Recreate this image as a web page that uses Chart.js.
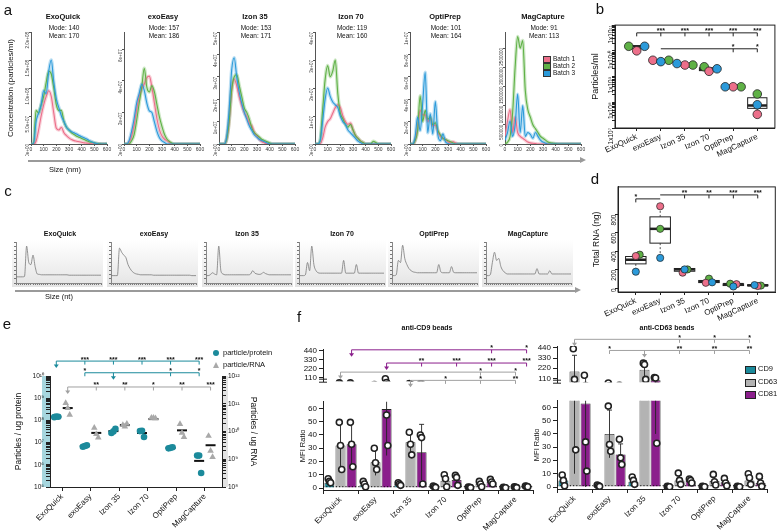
<!DOCTYPE html>
<html>
<head>
<meta charset="utf-8">
<title>EV isolation methods</title>
<script src="https://cdn.jsdelivr.net/npm/chart.js@4.4.1/dist/chart.umd.min.js"></script>
<style>
  body { margin:0; width:780px; height:531px; position:relative; overflow:hidden; background:#fff;
         font-family:"Liberation Sans", Arial, sans-serif; color:#111; }
  canvas, .t, .bx { position:absolute; }
  .t { white-space:nowrap; line-height:1; filter:grayscale(1); }
</style>
</head>
<body>
<script>
// ---------- data ----------
const methods = ['ExoQuick', 'exoEasy', 'Izon 35', 'Izon 70', 'OptiPrep', 'MagCapture'];

// a: size distributions (x in nm, y in aUnit of each method)
const aSizes = [0,20,40,60,80,100,120,140,160,180,200,220,240,260,280,300,320,340,360,380,400,420,440,460,480,500,520,540,560,580,600];
const aUnit = [1e7, 1e7, 1e7, 1e7, 1e6, 1e5];
const aYMax = [2e8, 7.1e7, 5e7, 4e7, 1e7, 2.92e6];
const aYTicks = [[0,5e7,1e8,1.5e8,2e8],[0,2e7,4e7,6e7],[0,1e7,2e7,3e7,4e7,5e7],[0,1e7,2e7,3e7,4e7],[0,2e6,4e6,6e6,8e6,1e7],[0,5e5,1e6,1.5e6,2e6,2.5e6]];
const aSizeTicks = [0,100,200,300,400,500,600];
const aMode = [140, 157, 153, 119, 101, 91];
const aMean = [170, 186, 171, 160, 164, 113];
const aBatch1 = [
  [0,0,0.5,2.5,5,7,8.5,9.5,8.5,5.5,2.8,2.5,3,2,1.5,1.1,0.8,0.6,0.5,0.4,0.3,0.2,0.15,0.1,0.05,0,0,0,0,0,0],
  [0,0,0.1,0.5,1.2,2.2,3,3.5,3.8,4.2,4.3,3.6,2.6,1.6,0.9,0.5,0.3,0.2,0.1,0,0,0,0,0,0,0,0,0,0,0,0],
  [0,0,0,0.2,1,2.4,2.9,2.6,2.1,1.7,1.4,1.2,0.9,0.8,0.5,0.35,0.2,0.1,0.05,0,0,0,0,0,0,0,0,0,0,0,0],
  [0,0,0,0.2,0.6,0.8,0.9,1.1,1.3,1.4,1.3,1,0.8,0.7,0.75,0.5,0.3,0.2,0.1,0.05,0,0,0,0,0,0,0,0,0,0,0],
  [0,0,0.3,1.4,3,2.6,2.6,2,2.3,1.6,1.7,1.1,0.7,0.5,0.4,0.2,0.1,0.2,0.1,0,0,0,0,0,0,0,0,0,0,0,0],
  [2,6,9,3,7,3,2,1.5,1,0.5,0.3,0.2,0.1,0,0,0,0,0,0,0,0,0,0,0,0,0,0,0,0,0,0]
];
const aBatch2 = [
  [0,0,6,5.5,7,8.5,11,13,12.5,10,7,6,6,4,3,2.5,2,1.7,1.4,1.2,1,0.8,0.6,0.4,0.3,0.2,0.1,0.05,0,0,0.1],
  [0,0,0,0.2,0.6,1.5,2.6,3.6,4.8,3.6,3.3,3.7,3.3,2.5,1.7,1.1,0.6,0.3,0.15,0.05,0,0,0,0,0,0,0,0,0,0,0],
  [0,0,0,0.2,1,2.4,3,3.1,2.6,2.1,1.6,1.4,1.1,0.7,0.5,0.4,0.3,0.2,0.15,0.1,0.05,0,0,0,0,0,0,0,0,0,0],
  [0,0,0.1,1.2,2.3,2.8,2.4,2.6,3,1.8,1.1,0.9,0.7,0.6,0.7,0.5,0.3,0.2,0.1,0.05,0,0,0,0.1,0.05,0,0,0,0,0,0],
  [0,0,0.3,1.2,4.3,2,3,2.2,2.4,1.7,1.9,1.2,0.8,0.5,0.4,0.3,0.2,0.1,0,0,0,0,0,0,0,0,0,0,0,0,0],
  [0,0.5,2,8,20,28,25,27,14,9,7,5,4,3,2,1.5,1,0.5,0.3,0.2,0.1,0,0,0,0,0,0,0,0,0,0]
];
const aBatch3 = [
  [0,0,4,5.5,7,9.5,9,13,15,11,8,6.5,5,4,3,2.5,2.2,2,1.8,1.5,1.3,1.1,0.9,0.6,0.4,0.2,0.1,0,0,0,0],
  [0,0,0.2,0.8,1.6,2.6,3.2,3.8,3.4,2.6,2.1,2,1.4,0.8,0.4,0.2,0.1,0,0,0,0,0,0,0,0,0,0,0,0,0,0],
  [0,0,0,0.3,1.5,3.3,3.85,3,2.3,1.8,1.4,1.1,0.8,0.6,0.4,0.3,0.2,0.15,0.1,0.05,0,0,0,0,0,0,0,0,0,0,0],
  [0,0,0.1,0.8,1.6,2,1.7,1.5,1.4,1.3,1,0.8,0.7,0.5,0.4,0.3,0.2,0.1,0.05,0,0,0,0,0,0,0,0,0,0,0,0],
  [0,0,0.6,2.4,1.2,3.6,6.4,1,2.7,0.9,3.8,0.8,0.3,0.9,0.2,0.05,0,0,0,0,0,0,0,0,0,0,0,0,0,0,0],
  [1,3,6,2,5,13,3,10,2,3,2.5,1.5,3,2,1,0.5,0.2,0,0,0,0,0,0,0,0,0,0,0,0,0,0]
];

// b: particles/ml per batch
const bBatch1 = [1.0e10, 4.3e9, 2.8e9, 1.6e9, 4.0e8, 3.4e7];
const bBatch2 = [1.5e10, 4.3e9, 2.8e9, 2.4e9, 4.0e8, 2.1e8];
const bBatch3 = [1.5e10, 3.8e9, 3.2e9, 2.0e9, 4.0e8, 8.0e7];
const bQ1 = [1.2e10, 4.0e9, 2.8e9, 1.7e9, 4.0e8, 5.8e7];
const bMed = [1.5e10, 4.3e9, 2.8e9, 1.9e9, 4.0e8, 7.5e7];
const bQ3 = [1.5e10, 4.3e9, 3.0e9, 2.2e9, 4.0e8, 1.5e8];

// c: Bioanalyzer traces (arbitrary units)
const cPos = [0,1,2,3,4,5,6,7,8,9,10,11,12,13,14,15,16,17,18,19,20,21,22,23,24,25,26,27,28,29,30,31,32,33,34,35,36,37,38,39,40];
const cTraces = [
  [15,15,15,15,16,90,50,45,68,40, 22,21,20,20,20,20,20,20,20,20, 20,20,20,20,20,19,19,19,19,19, 19,19,19,19,19,19,19,19,19,19,19],
  [18,18,18,18,85,75,68,62,45,35, 28,24,22,21,20,20,20,20,20,20, 19,19,19,19,19,19,19,19,19,19, 19,19,19,19,19,19,19,19,18,18,18],
  [18,18,20,25,22,20,90,30,22,20, 20,20,20,20,20,20,20,20,20,20, 20,22,30,24,22,21,22,26,23,21, 20,20,20,20,20,20,20,20,20,20,20],
  [18,18,18,20,50,30,90,45,30,25, 24,24,24,24,24,24,24,24,24,24, 24,55,24,24,24,24,24,45,24,24, 24,24,24,24,24,24,24,24,24,24,24],
  [18,18,20,55,50,92,60,45,35,30, 27,26,25,25,25,25,25,25,25,25, 25,25,45,27,25,25,25,25,40,26, 25,25,25,25,25,25,25,25,25,25,25],
  [18,18,20,50,75,55,60,40,30,25, 22,22,22,22,22,22,22,22,22,22, 22,22,22,22,35,22,22,22,22,22, 30,22,22,22,22,22,22,22,22,22,22]
];

// d: total RNA (ng)
const dBatch1 = [350, 890, 170, 60, 45, 25];
const dBatch2 = [365, 645, 205, 105, 50, 30];
const dBatch3 = [180, 330, 205, 65, 20, 35];
const dQ1 = [265, 490, 185, 62, 30, 28];
const dMed = [310, 645, 205, 72, 45, 32];
const dQ3 = [345, 775, 215, 85, 48, 38];
const dTicks = [0, 200, 400, 600, 800];

// e: particles per ug protein / per ug RNA
const eProtein = [[1.4e8,1.5e8,1.45e8],[6.5e6,7e6,7.5e6],[2.7e7,3.2e7,4.2e7],[3.3e7,3.4e7,1.8e7],[5.5e6,5.8e6,6.2e6],[2.6e6,2.6e6,4.3e5]];
const eRna = [[1.05e11,7e10,4e10],[1.35e10,8e9,6e9],[1.7e10,1.5e10,1.9e10],[3.1e10,3.1e10,3.0e10],[1.85e10,9e9,6.3e9],[6.9e9,2e9,1.2e9]];
const eProteinMean = [1.45e8, 7e6, 3.3e7, 2.7e7, 5.8e6, 1.5e6];
const eRnaMean = [7e10, 8.9e9, 1.7e10, 2.8e10, 1.1e10, 3.2e9];

// f: MFI ratio, series CD9 / CD63 / CD81
const fSeries = ['CD9', 'CD63', 'CD81'];
const fLowTicks = [0, 10, 20, 30, 40, 50, 60];
const fHighTicks = [110, 220, 330, 440];
const cd9BeadsMean = [[4, 2, 3, 0.7, 0.4, 0.3], [32, 19.5, 34.5, 5.5, 3, 0.5], [33, 59.5, 27, 6, 4.5, 1.2]];
const cd9BeadsSd = [[1.5, 2, 1, 0.5, 0.2, 0.1], [17, 10, 8, 4, 2, 0.3], [16, 35, 21, 4, 1.5, 0.3]];
const cd9BeadsPts = [
  [[7,5,4],[5,3,1],[4,3,2],[1.5,1,0.5],[0.8,0.5,0.3],[0.5,0.3,0.2]],
  [[49.5,32,14],[30,19,14],[42,33,25],[10,7,1],[5,3,1],[1,0.5,0.3]],
  [[49.5,33,16],[100,55,32],[40,38,3],[9.5,8,2],[6.5,4.5,3],[1.5,1.2,1]]
];
const cd63BeadsMean = [[5, 1, 4, 0.3, 0.3, 0.3], [185, 40, 205, 5, 4.5, 5], [63, 24.5, 90, 4.5, 3.5, 3]];
const cd63BeadsSd = [[4, 0.5, 2.5, 0.2, 0.2, 0.2], [175, 18, 95, 4, 4, 4], [70, 8, 50, 1.5, 2.5, 3.5]];
const cd63BeadsPts = [
  [[9,5,1],[1.5,1,0.5],[7.5,5,2],[0.5,0.3,0.2],[0.5,0.3,0.2],[0.5,0.3,0.2]],
  [[430,100,28],[61,32,27],[275,260,100],[10.5,5,2],[9.5,4,1.5],[10,7,2]],
  [[145,34,12],[36,22,17],[120,115,33],[6,5,3],[6.5,3,1],[8,3,0.5]]
];

// significance brackets: [category, series, label]
const bBrackets = [
  { axis:'y', level:5e10, color:'#222', from:[0,0], to:[5,0], marks:[[0,0,''],[1,0,'***'],[2,0,'***'],[3,0,'***'],[4,0,'***'],[5,0,'***']] },
  { axis:'y', level:1.2e10, color:'#222', from:[1,0], to:[5,0], marks:[[4,0,'*'],[5,0,'*']] }
];
const dBrackets = [
  { axis:'y', level:970, color:'#222', from:[0,0], to:[1,0], marks:[[0,0,'*']] },
  { axis:'y', level:1013, color:'#222', from:[1,0], to:[5,0], marks:[[2,0,'**'],[3,0,'**'],[4,0,'***'],[5,0,'***']] }
];
const eBrackets = [
  { axis:'yL', level:4.7e10, color:'#1b8a9b', from:[0,0], to:[5,0], arrow:[0,0], marks:[[1,0,'***'],[2,0,'***'],[3,0,'***'],[4,0,'***'],[5,0,'***']] },
  { axis:'yL', level:1.4e10, color:'#1b8a9b', from:[1,0], to:[5,0], arrow:[2,0], marks:[[1,0,'*'],[4,0,'*'],[5,0,'*']] },
  { axis:'yL', level:3.2e9, color:'#a0a0a0', from:[0,1], to:[5,1], arrow:[0,1], marks:[[1,1,'**'],[2,1,'**'],[3,1,'*'],[4,1,'**'],[5,1,'***']] }
];
const fLeftBrackets = [
  { axis:'y', level:450, color:'#8b1f8c', from:[0,2], to:[5,2], arrow:[0,2], marks:[[4,2,'*'],[5,2,'*']] },
  { axis:'y', level:290, color:'#8b1f8c', from:[1,2], to:[5,2], arrow:[1,2], marks:[[2,2,'**'],[3,2,'***'],[4,2,'***'],[5,2,'***']] },
  { axis:'y', level:180, color:'#a0a0a0', from:[0,1], to:[5,1], arrow:[0,1], marks:[[4,1,'*'],[5,1,'*']] },
  { axis:'y', level:80, color:'#a0a0a0', from:[2,1], to:[5,1], arrow:[2,1], marks:[[3,1,'*'],[4,1,'*'],[5,1,'**']] }
];
const fRightBrackets = [
  { axis:'y', level:532, color:'#a0a0a0', from:[0,1], to:[5,1], arrow:[0,1], marks:[[3,1,'*'],[4,1,'*'],[5,1,'*']] },
  { axis:'y', level:412, color:'#a0a0a0', from:[1,1], to:[5,1], arrow:[2,1], marks:[[1,1,'*'],[3,1,'**'],[4,1,'**'],[5,1,'**']] }
];

// ---------- styles ----------
const pink = '#ec6f8a', green = '#5fb146', blue = '#2b9ada';
const teal = '#1b8a9b', grayBar = '#b3b3b3', purple = '#8b1f8c';
const FONT = '"Liberation Sans", Arial, sans-serif';

Chart.defaults.font.family = FONT;
Chart.defaults.color = '#111';
Chart.defaults.animation = false;
Chart.defaults.responsive = false;
Chart.defaults.devicePixelRatio = 1;
Chart.defaults.plugins.legend.display = false;
Chart.defaults.plugins.tooltip.enabled = false;

// ---------- helpers ----------
function place(left, top, w, h) {
  const c = document.createElement('canvas');
  c.width = w; c.height = h;
  Object.assign(c.style, { left: left + 'px', top: top + 'px', width: w + 'px', height: h + 'px' });
  document.body.appendChild(c);
  return c.getContext('2d');
}
function text(str, x, y, size, o = {}) {
  const d = document.createElement('div');
  d.className = 't';
  d.textContent = str;
  d.style.left = x + 'px';
  d.style.top = y + 'px';
  d.style.fontSize = size + 'px';
  if (o.bold) d.style.fontWeight = 'bold';
  const ax = o.left ? '0' : '-50%';
  d.style.transform = 'translate(' + ax + ',-50%)' + (o.rot ? ' rotate(' + o.rot + 'deg)' : '');
  document.body.appendChild(d);
}
function box(x, y, w, h, css) {
  const d = document.createElement('div');
  d.className = 'bx';
  Object.assign(d.style, { left: x + 'px', top: y + 'px', width: w + 'px', height: h + 'px' }, css);
  document.body.appendChild(d);
}
function arrowLine(x1, x2, y) {
  box(x1, y, x2 - x1, 1.5, { background: '#9a9a9a' });
  box(x2, y - 3, 0, 0, { borderLeft: '6px solid #9a9a9a', borderTop: '3.5px solid transparent', borderBottom: '3.5px solid transparent' });
}
const tickGrid = (len, color) => ({ display: true, drawOnChartArea: false, drawTicks: true, tickLength: len, color: color || '#222' });
const SUP = '⁰¹²³⁴⁵⁶⁷⁸⁹';
const sup = n => String(n).split('').map(ch => SUP[+ch]).join('');
const isPow10 = v => Math.abs(Math.log10(v) - Math.round(Math.log10(v))) < 1e-9;
function logTicks(e0, e1) {
  const t = [];
  for (let e = e0; e < e1; e++) for (let s = 1; s < 10; s++) t.push({ value: s * Math.pow(10, e) });
  t.push({ value: Math.pow(10, e1) });
  return t;
}
function sci(v, d) { return v.toExponential(d).replace(/e([+-])(\d)$/, 'e$10$2'); }

const linX = offs => (ch, c, s) => ch.scales.x.getPixelForValue(c + (offs[s] || 0));
const barX = (ch, c, s) => ch.getDatasetMeta(s).data[c].x;

function bracketPlugin(list, xOf) {
  return {
    id: 'brackets',
    afterDraw(chart) {
      const ctx = chart.ctx;
      ctx.save();
      list.forEach(b => {
        const y = chart.scales[b.axis].getPixelForValue(b.level);
        const x1 = xOf(chart, b.from[0], b.from[1]), x2 = xOf(chart, b.to[0], b.to[1]);
        ctx.strokeStyle = b.color; ctx.fillStyle = b.color; ctx.lineWidth = 1;
        ctx.beginPath(); ctx.moveTo(x1, y); ctx.lineTo(x2, y); ctx.stroke();
        if (b.arrow) {
          const xa = xOf(chart, b.arrow[0], b.arrow[1]);
          ctx.beginPath(); ctx.moveTo(xa, y); ctx.lineTo(xa, y + 5); ctx.stroke();
          ctx.beginPath(); ctx.moveTo(xa - 2.5, y + 3.5); ctx.lineTo(xa + 2.5, y + 3.5); ctx.lineTo(xa, y + 7); ctx.closePath(); ctx.fill();
        }
        ctx.font = 'bold 7px ' + FONT; ctx.textAlign = 'center'; ctx.textBaseline = 'bottom';
        b.marks.forEach(([c, s, lab]) => {
          const xm = xOf(chart, c, s);
          ctx.strokeStyle = b.color;
          ctx.beginPath(); ctx.moveTo(xm, y); ctx.lineTo(xm, y + 3.5); ctx.stroke();
          ctx.fillStyle = '#111';
          if (lab) ctx.fillText(lab, xm, y + 2);
        });
      });
      ctx.restore();
    }
  };
}

function boxPlugin(q1, med, q3, series, half) {
  return {
    id: 'boxes',
    beforeDatasetsDraw(chart) {
      const ctx = chart.ctx, xs = chart.scales.x, ys = chart.scales.y;
      ctx.save();
      ctx.strokeStyle = '#222';
      q1.forEach((lo, i) => {
        const cx = xs.getPixelForValue(i), hw = xs.getPixelForValue(i + half) - cx;
        const vals = series.map(s => s[i]);
        const yTop = ys.getPixelForValue(q3[i]), yBot = ys.getPixelForValue(lo);
        ctx.setLineDash([2, 2]); ctx.lineWidth = 0.8;
        ctx.beginPath();
        ctx.moveTo(cx, yTop); ctx.lineTo(cx, ys.getPixelForValue(Math.max(...vals)));
        ctx.moveTo(cx, yBot); ctx.lineTo(cx, ys.getPixelForValue(Math.min(...vals)));
        ctx.stroke();
        ctx.setLineDash([]);
        ctx.fillStyle = '#fff'; ctx.lineWidth = 1;
        ctx.fillRect(cx - hw, yTop, 2 * hw, yBot - yTop);
        ctx.strokeRect(cx - hw, yTop, 2 * hw, yBot - yTop);
        const ym = ys.getPixelForValue(med[i]);
        ctx.lineWidth = 2.5;
        ctx.beginPath(); ctx.moveTo(cx - hw, ym); ctx.lineTo(cx + hw, ym); ctx.stroke();
      });
      ctx.restore();
    }
  };
}

const framePlugin = {
  id: 'frame',
  afterDraw(chart) {
    const a = chart.chartArea, ctx = chart.ctx;
    ctx.save(); ctx.strokeStyle = '#222'; ctx.lineWidth = 1;
    ctx.strokeRect(a.left, a.top, a.right - a.left, a.bottom - a.top);
    ctx.restore();
  }
};

const ptJitter = [-1.2, 0, 1.2];
const barExtras = {
  id: 'barExtras',
  afterDatasetsDraw(chart, args, opts) {
    const ctx = chart.ctx, a = chart.chartArea, ys = chart.scales.y;
    ctx.save();
    ctx.beginPath(); ctx.rect(a.left - 6, a.top, a.right - a.left + 12, a.bottom - a.top); ctx.clip();
    if (opts.dotted) {
      const y1 = ys.getPixelForValue(1);
      ctx.setLineDash([1.2, 2]); ctx.strokeStyle = '#111'; ctx.lineWidth = 1;
      ctx.beginPath(); ctx.moveTo(a.left, y1); ctx.lineTo(a.right, y1); ctx.stroke();
      ctx.setLineDash([]);
    }
    chart.data.datasets.forEach((ds, i) => {
      const meta = chart.getDatasetMeta(i);
      ds.data.forEach((m, j) => {
        const x = meta.data[j].x;
        const yHi = ys.getPixelForValue(m + ds.sd[j]), yLo = ys.getPixelForValue(Math.max(m - ds.sd[j], 0));
        ctx.strokeStyle = '#222'; ctx.lineWidth = 0.9;
        ctx.beginPath(); ctx.moveTo(x, yLo); ctx.lineTo(x, yHi);
        ctx.moveTo(x - 2.5, yHi); ctx.lineTo(x + 2.5, yHi); ctx.stroke();
        ds.pts[j].forEach((p, k) => {
          ctx.beginPath(); ctx.arc(x + ptJitter[k], ys.getPixelForValue(p), 3, 0, 2 * Math.PI);
          ctx.fillStyle = '#fff'; ctx.fill();
          ctx.lineWidth = 1.6; ctx.strokeStyle = '#222'; ctx.stroke();
        });
      });
    });
    ctx.restore();
    if (!opts.dotted) {
      // axis break marks under the upper segment
      ctx.save(); ctx.strokeStyle = '#222'; ctx.lineWidth = 1;
      ctx.beginPath();
      ctx.moveTo(a.left - 4, a.bottom - 2); ctx.lineTo(a.left + 4, a.bottom - 2);
      ctx.moveTo(a.left - 4, a.bottom + 1); ctx.lineTo(a.left + 4, a.bottom + 1);
      ctx.stroke(); ctx.restore();
    }
  }
};

// ---------- panel a ----------
const aPlotLeft = [31, 124, 219, 315, 410, 505];
const aTitleX = [63, 163, 255, 351, 445, 543];
methods.forEach((m, i) => {
  const ctx = place(aPlotLeft[i] - 12, 28, 94, 128);
  const toPts = arr => arr.map((v, k) => ({ x: aSizes[k], y: v * aUnit[i] }));
  const series = [aBatch3[i], aBatch2[i], aBatch1[i]];
  const cols = [blue, green, pink];
  const lines = series.map((s, k) => ({ data: toPts(s), borderColor: cols[k], borderWidth: 1.1, pointRadius: 0, cubicInterpolationMode: 'monotone' }));
  const halos = series.map((s, k) => ({ data: toPts(s), borderColor: cols[k] + '50', borderWidth: 3.5, pointRadius: 0, cubicInterpolationMode: 'monotone' }));
  new Chart(ctx, {
    type: 'line',
    data: { datasets: [...lines, ...halos] },
    options: {
      layout: { padding: { top: 4, right: 6 } },
      scales: {
        x: {
          type: 'linear', min: 0, max: 600,
          afterBuildTicks: s => { s.ticks = aSizeTicks.map(v => ({ value: v })); },
          ticks: { font: { size: 5 }, padding: 1, maxRotation: 0, autoSkip: false, color: '#333' },
          grid: tickGrid(2, '#555'), border: { color: '#555' },
          afterFit: s => { s.height = 12; }
        },
        y: {
          min: 0, max: aYMax[i],
          afterBuildTicks: s => { s.ticks = aYTicks[i].map(v => ({ value: v })); },
          ticks: { font: { size: 4.5 }, minRotation: 90, maxRotation: 90, padding: 1, autoSkip: false, color: '#333',
                   callback: v => i === 5 ? String(v) : sci(v, i === 0 ? 1 : 0) },
          grid: tickGrid(2, '#555'), border: { color: '#555' },
          afterFit: s => { s.width = 12; }
        }
      }
    }
  });
  text(m, aTitleX[i], 17, 7.5, { bold: true });
  text('Mode: ' + aMode[i], aTitleX[i] + 1, 28, 6.5);
  text('Mean: ' + aMean[i], aTitleX[i] + 1, 36, 6.5);
});
text('a', 8, 9, 15);
text('Concentration (particles/ml)', 11, 88, 8, { rot: -90 });
arrowLine(28, 580, 160);
text('Size (nm)', 65, 170, 7.5);
[['Batch 1', pink], ['Batch 2', green], ['Batch 3', blue]].forEach(([lab, col], k) => {
  box(543, 56 + k * 7, 6, 5, { background: col, border: '0.8px solid #333' });
  text(lab, 553, 59 + k * 7, 6.5, { left: true });
});

// ---------- panel b ----------
const bDx = [[0, -0.33, 0, 0, 0, 0], [-0.33, 0.33, 0.33, -0.2, 0.33, 0], [0.33, 0, -0.33, 0.33, -0.33, 0]];
const dotPts = (vals, dx) => vals.map((v, i) => ({ x: i + dx[i], y: v }));
new Chart(place(590, 20, 190, 143), {
  type: 'scatter',
  data: { datasets: [
    { data: dotPts(bBatch3, bDx[2]), backgroundColor: blue, borderColor: '#222', borderWidth: 0.8, pointRadius: 4.3 },
    { data: dotPts(bBatch1, bDx[0]), backgroundColor: pink, borderColor: '#222', borderWidth: 0.8, pointRadius: 4.3 },
    { data: dotPts(bBatch2, bDx[1]), backgroundColor: green, borderColor: '#222', borderWidth: 0.8, pointRadius: 4.3 }
  ] },
  options: {
    layout: { padding: { top: 3, right: 2 } },
    scales: {
      x: {
        type: 'linear', min: -0.9, max: 5.73,
        afterBuildTicks: s => { s.ticks = methods.map((c, i) => ({ value: i })); },
        ticks: { callback: v => methods[v], minRotation: 25, maxRotation: 25, font: { size: 8 }, autoSkip: false, padding: 1 },
        grid: tickGrid(3), border: { color: '#222' },
        afterFit: s => { s.height = 35; }
      },
      y: {
        type: 'logarithmic', min: 1e7, max: 1e11,
        afterBuildTicks: s => { s.ticks = logTicks(7, 11); },
        ticks: { autoSkip: false, minRotation: 90, maxRotation: 90, font: { size: 6.5 }, padding: 1,
                 callback: v => isPow10(v) ? '1x10' + sup(Math.round(Math.log10(v))) : '' },
        grid: tickGrid(3), border: { color: '#222' },
        title: { display: true, text: 'Particles/ml', font: { size: 9 }, padding: 0 },
        afterFit: s => { s.width = 25; }
      }
    }
  },
  plugins: [boxPlugin(bQ1, bMed, bQ3, [bBatch1, bBatch2, bBatch3], 0.4), framePlugin, bracketPlugin(bBrackets, linX([0]))]
});
text('b', 600, 8, 15);

// ---------- panel c ----------
const cBoxLeft = [12, 107, 202, 295, 388, 482];
const cTitleX = [60, 154, 247, 342, 434, 528];
const cShade = {
  id: 'shade',
  beforeDraw(chart) {
    const ctx = chart.ctx, g = ctx.createLinearGradient(0, 0, 0, chart.height);
    g.addColorStop(0, '#ffffff'); g.addColorStop(1, '#e4e4e4');
    ctx.save(); ctx.fillStyle = g; ctx.fillRect(0, 0, chart.width, chart.height); ctx.restore();
  }
};
methods.forEach((m, i) => {
  new Chart(place(cBoxLeft[i], 240, 91, 47), {
    type: 'line',
    data: { labels: cPos, datasets: [{ data: cTraces[i], borderColor: '#7a7a7a', borderWidth: 0.8, pointRadius: 0, cubicInterpolationMode: 'monotone' }] },
    options: {
      layout: { padding: { top: 2, right: 2 } },
      scales: {
        x: { ticks: { display: false }, grid: { display: true, drawOnChartArea: false, tickLength: 2, color: '#777' }, border: { color: '#888' }, afterFit: s => { s.height = 4; } },
        y: { min: 0, max: 100, ticks: { display: false, stepSize: 10 }, grid: { display: true, drawOnChartArea: false, tickLength: 2, color: '#777' }, border: { color: '#888' }, afterFit: s => { s.width = 4; } }
      }
    },
    plugins: [cShade]
  });
  text(m, cTitleX[i], 233, 7, { bold: true });
});
text('c', 8, 190, 15);
arrowLine(15, 575, 290);
text('Size (nt)', 59, 297, 7.5);

// ---------- panel d ----------
const dDx = [[0, 0, -0.08, -0.13, 0.13, 0], [0.16, 0, 0.12, 0, -0.13, 0.13], [0, 0, 0, 0.13, 0, -0.13]];
new Chart(place(592, 182, 188, 140), {
  type: 'scatter',
  data: { datasets: [
    { data: dotPts(dBatch3, dDx[2]), backgroundColor: blue, borderColor: '#222', borderWidth: 0.7, pointRadius: 3.6 },
    { data: dotPts(dBatch1, dDx[0]), backgroundColor: pink, borderColor: '#222', borderWidth: 0.7, pointRadius: 3.6 },
    { data: dotPts(dBatch2, dDx[1]), backgroundColor: green, borderColor: '#222', borderWidth: 0.7, pointRadius: 3.6 }
  ] },
  options: {
    layout: { padding: { top: 3, right: 2 } },
    scales: {
      x: {
        type: 'linear', min: -0.73, max: 5.72,
        afterBuildTicks: s => { s.ticks = methods.map((c, i) => ({ value: i })); },
        ticks: { callback: v => methods[v], minRotation: 25, maxRotation: 25, font: { size: 8 }, autoSkip: false, padding: 1 },
        grid: tickGrid(3), border: { color: '#222' },
        afterFit: s => { s.height = 30; }
      },
      y: {
        min: -40, max: 1100,
        afterBuildTicks: s => { s.ticks = dTicks.map(v => ({ value: v })); },
        ticks: { autoSkip: false, minRotation: 90, maxRotation: 90, font: { size: 6.5 }, padding: 1 },
        grid: tickGrid(3), border: { color: '#222' },
        title: { display: true, text: 'Total RNA (ng)', font: { size: 8.5 }, padding: 0 },
        afterFit: s => { s.width = 26; }
      }
    }
  },
  plugins: [boxPlugin(dQ1, dMed, dQ3, [dBatch1, dBatch2, dBatch3], 0.42), framePlugin, bracketPlugin(dBrackets, linX([0]))]
});
text('d', 595, 178, 15);

// ---------- panel e ----------
const eOff = [-0.2, 0.2];
const eJit = [-0.07, 0, 0.07];
const ePts = (groups, s) => groups.flatMap((g, i) => g.map((v, k) => ({ x: i + eOff[s] + eJit[k], y: v })));
const eBands = {
  id: 'bands',
  beforeDraw(chart) {
    const a = chart.chartArea, ctx = chart.ctx;
    ctx.save();
    ctx.fillStyle = '#a6d6de'; ctx.fillRect(a.left - 8, a.top, 8, a.bottom - a.top);
    ctx.fillStyle = '#e3e3e3'; ctx.fillRect(a.right, a.top, 6, a.bottom - a.top);
    ctx.restore();
  }
};
const eMeans = {
  id: 'means',
  beforeDatasetsDraw(chart) {
    const ctx = chart.ctx, xs = chart.scales.x;
    ctx.save(); ctx.strokeStyle = '#111'; ctx.lineWidth = 2;
    [[eProteinMean, 'yL', 0], [eRnaMean, 'yR', 1]].forEach(([means, ax, s]) => {
      means.forEach((v, i) => {
        const x = xs.getPixelForValue(i + eOff[s]), y = chart.scales[ax].getPixelForValue(v);
        ctx.beginPath(); ctx.moveTo(x - 5, y); ctx.lineTo(x + 5, y); ctx.stroke();
      });
    });
    ctx.restore();
  }
};
new Chart(place(14, 340, 244, 191), {
  type: 'scatter',
  data: { datasets: [
    { data: ePts(eProtein, 0), yAxisID: 'yL', backgroundColor: teal, borderWidth: 0, pointRadius: 3.3 },
    { data: ePts(eRna, 1), yAxisID: 'yR', backgroundColor: '#a9a9a9', borderWidth: 0, pointStyle: 'triangle', pointRadius: 3.8 }
  ] },
  options: {
    layout: { padding: { top: 36 } },
    scales: {
      x: {
        type: 'linear', min: -0.42, max: 5.6,
        afterBuildTicks: s => { s.ticks = methods.map((c, i) => ({ value: i })); },
        ticks: { callback: v => methods[v], minRotation: 45, maxRotation: 45, font: { size: 8 }, autoSkip: false, padding: 1 },
        grid: tickGrid(4), border: { color: '#222' },
        afterFit: s => { s.height = 44; }
      },
      yL: {
        type: 'logarithmic', position: 'left', min: 1e5, max: 1e10,
        afterBuildTicks: s => { s.ticks = logTicks(5, 10); },
        ticks: { autoSkip: false, font: { size: 6.5 }, padding: 2, callback: v => isPow10(v) ? '10' + sup(Math.round(Math.log10(v))) : '' },
        grid: tickGrid(4), border: { color: '#222' },
        title: { display: true, text: 'Particles / ug protein', font: { size: 8.5 }, padding: 0 },
        afterFit: s => { s.width = 36; }
      },
      yR: {
        type: 'logarithmic', position: 'right', min: 1e8, max: 1e12,
        afterBuildTicks: s => { s.ticks = logTicks(8, 12); },
        ticks: { autoSkip: false, font: { size: 6.5 }, padding: 2, callback: v => isPow10(v) ? '10' + sup(Math.round(Math.log10(v))) : '' },
        grid: tickGrid(4), border: { color: '#222' },
        title: { display: true, text: 'Particles / ug RNA', font: { size: 8.5 }, padding: 0 },
        afterFit: s => { s.width = 36; }
      }
    }
  },
  plugins: [eBands, eMeans, bracketPlugin(eBrackets, linX(eOff))]
});
text('e', 7, 323, 15);
box(213, 350, 6, 6, { background: teal, borderRadius: '50%' });
text('particle/protein', 223, 353, 7.5, { left: true });
box(213, 362, 0, 0, { borderLeft: '3.5px solid transparent', borderRight: '3.5px solid transparent', borderBottom: '6px solid #a9a9a9' });
text('particle/RNA', 223, 365, 7.5, { left: true });

// ---------- panel f ----------
const fColors = [teal, grayBar, purple];
const fSets = (means, sds, pts) => means.map((m, k) => ({
  label: fSeries[k], data: m, sd: sds[k], pts: pts[k], backgroundColor: fColors[k],
  borderColor: '#222', borderWidth: 0.8, barPercentage: 0.9, categoryPercentage: 0.95, clip: 0
}));
function fPanel(cfg) {
  // upper (broken) segment
  new Chart(place(cfg.left, cfg.upTop, cfg.width, cfg.upHeight), {
    type: 'bar',
    data: { labels: methods, datasets: fSets(cfg.means, cfg.sds, cfg.pts) },
    options: {
      layout: { padding: { top: cfg.upPad, right: cfg.padRight } },
      plugins: { barExtras: { dotted: false } },
      scales: {
        x: { display: false },
        y: {
          min: 70, max: 460,
          afterBuildTicks: s => { s.ticks = fHighTicks.map(v => ({ value: v })); },
          ticks: { font: { size: 8 }, padding: 2, autoSkip: false },
          grid: tickGrid(4), border: { color: '#222' },
          afterFit: s => { s.width = 25; }
        }
      }
    },
    plugins: [barExtras, bracketPlugin(cfg.brackets, barX)]
  });
  // lower segment
  new Chart(place(cfg.left, cfg.lowTop, cfg.width, 531 - cfg.lowTop), {
    type: 'bar',
    data: { labels: methods, datasets: fSets(cfg.means, cfg.sds, cfg.pts) },
    options: {
      layout: { padding: { top: 3, right: cfg.padRight } },
      plugins: { barExtras: { dotted: true } },
      scales: {
        x: {
          ticks: { minRotation: 45, maxRotation: 45, font: { size: 8 }, autoSkip: false, padding: 1 },
          grid: tickGrid(4), border: { color: '#222' },
          afterFit: s => { s.height = cfg.xHeight; }
        },
        y: {
          min: -1.5, max: 65,
          afterBuildTicks: s => { s.ticks = fLowTicks.map(v => ({ value: v })); },
          ticks: { font: { size: 8 }, padding: 2, autoSkip: false },
          grid: tickGrid(4), border: { color: '#222' },
          title: { display: true, text: 'MFI Ratio', font: { size: 7.5 }, padding: 0 },
          afterFit: s => { s.width = 25; }
        }
      }
    },
    plugins: [barExtras]
  });
}
fPanel({ left: 298, width: 243, padRight: 8, upTop: 330, upPad: 19, upHeight: 58, lowTop: 395, xHeight: 41,
         means: cd9BeadsMean, sds: cd9BeadsSd, pts: cd9BeadsPts, brackets: fLeftBrackets });
fPanel({ left: 532, width: 248, padRight: 13, upTop: 328, upPad: 18, upHeight: 61, lowTop: 394, xHeight: 42,
         means: cd63BeadsMean, sds: cd63BeadsSd, pts: cd63BeadsPts, brackets: fRightBrackets });
text('f', 299, 316, 15);
text('anti-CD9 beads', 427, 327, 7, { bold: true });
text('anti-CD63 beads', 667, 327, 7, { bold: true });
fSeries.forEach((lab, k) => {
  box(745, 366 + k * 12.5, 9, 6, { background: fColors[k], border: '0.8px solid #222' });
  text(lab, 758, 369 + k * 12.5, 7.5, { left: true });
});
</script>
</body>
</html>
